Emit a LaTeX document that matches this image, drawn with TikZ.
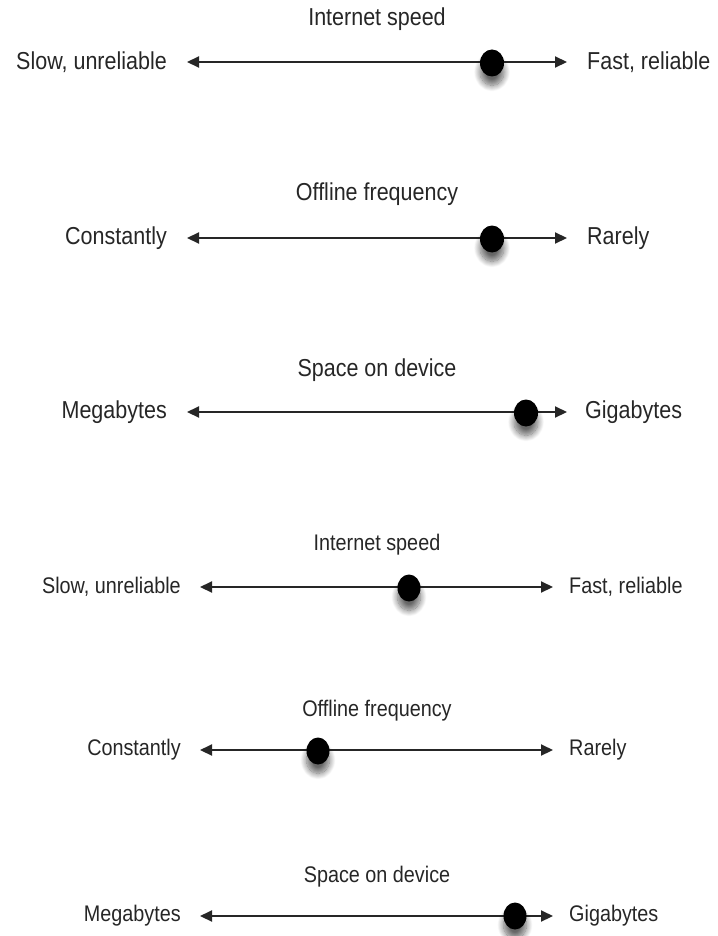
\documentclass[tikz,border=0pt]{standalone}
\usepackage{fontspec}
\setmainfont{Liberation Sans}
\usetikzlibrary{arrows.meta,shapes.geometric,shadows.blur}
\definecolor{ink}{HTML}{262626}
\newcommand{\tx}[1]{\scalebox{1}[1.14]{#1}}
\begin{document}
\begin{tikzpicture}[x=1pt,y=-1pt,
  big/.style={inner sep=0pt,text=ink,font=\fontsize{21.5}{26}\selectfont},
  small/.style={inner sep=0pt,text=ink,font=\fontsize{19.8}{24}\selectfont},
  scaleline/.style={draw=ink,line width=2.1pt,{Triangle[length=12pt,width=11pt]}-{Triangle[length=12pt,width=11pt]}},
  knob/.style={ellipse,fill=black,draw=none,inner sep=0pt,minimum width=24pt,minimum height=27pt,
    blur shadow={shadow xshift=0pt,shadow yshift=-9pt,shadow opacity=60,shadow blur steps=14,shadow blur radius=6pt}}]
\useasboundingbox (0,0) rectangle (717,936);
% ---- row 1
\node[big] (t1) at (377,19) {\tx{Internet speed}};
\node[big,anchor=east] (l1) at (167,62) {\tx{Slow, unreliable}};
\node[big,anchor=west] (r1) at (587,62) {\tx{Fast, reliable}};
\coordinate (a1) at (187,62); \coordinate (b1) at (567,62);
\draw[scaleline] (a1) -- (b1);
% ---- row 2
\node[big] (t2) at (377,194) {\tx{Offline frequency}};
\node[big,anchor=east] (l2) at (167,238) {\tx{Constantly}};
\node[big,anchor=west] (r2) at (587,238) {\tx{Rarely}};
\coordinate (a2) at (187,238); \coordinate (b2) at (567,238);
\draw[scaleline] (a2) -- (b2);
% ---- row 3
\node[big] (t3) at (377,370) {\tx{Space on device}};
\node[big,anchor=east] (l3) at (167,412) {\tx{Megabytes}};
\node[big,anchor=west] (r3) at (585,412) {\tx{Gigabytes}};
\coordinate (a3) at (187,412); \coordinate (b3) at (567,412);
\draw[scaleline] (a3) -- (b3);
% ---- row 4
\node[small] (t4) at (377,545) {\tx{Internet speed}};
\node[small,anchor=east] (l4) at (181,587) {\tx{Slow, unreliable}};
\node[small,anchor=west] (r4) at (569,587) {\tx{Fast, reliable}};
\coordinate (a4) at (200,587); \coordinate (b4) at (553,587);
\draw[scaleline] (a4) -- (b4);
% ---- row 5
\node[small] (t5) at (377,711) {\tx{Offline frequency}};
\node[small,anchor=east] (l5) at (181,750) {\tx{Constantly}};
\node[small,anchor=west] (r5) at (569,750) {\tx{Rarely}};
\coordinate (a5) at (200,750); \coordinate (b5) at (553,750);
\draw[scaleline] (a5) -- (b5);
% ---- row 6
\node[small] (t6) at (377,877) {\tx{Space on device}};
\node[small,anchor=east] (l6) at (181,916) {\tx{Megabytes}};
\node[small,anchor=west] (r6) at (569,916) {\tx{Gigabytes}};
\coordinate (a6) at (200,916); \coordinate (b6) at (553,916);
\draw[scaleline] (a6) -- (b6);
% ---- knobs
\node[knob] (k1) at (492,63) {};
\node[knob] (k2) at (492,239) {};
\node[knob] (k3) at (526,413) {};
\node[knob,minimum width=23pt] (k4) at (409,588) {};
\node[knob,minimum width=23pt] (k5) at (318,751) {};
\node[knob,minimum width=23pt] (k6) at (515,916) {};
\end{tikzpicture}
\end{document}
